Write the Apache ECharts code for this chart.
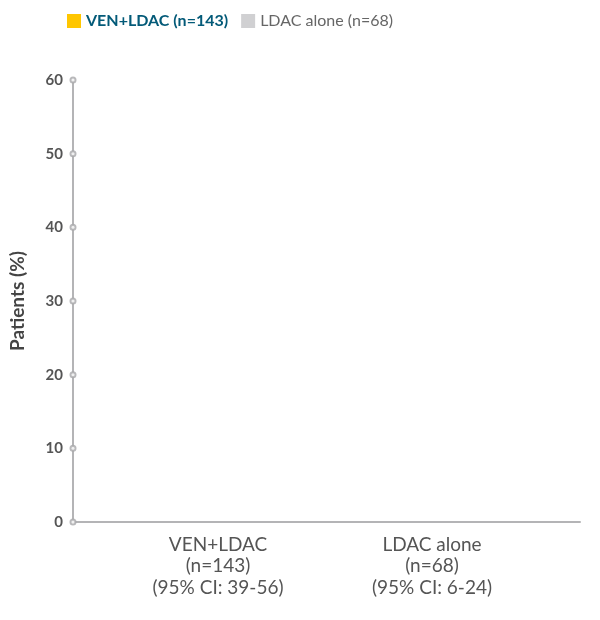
<!DOCTYPE html>
<html>
<head>
<meta charset="utf-8">
<script src="https://cdn.jsdelivr.net/npm/echarts@6/dist/echarts.min.js"></script>
<style>
  html, body { margin: 0; padding: 0; background: #fff; }
  #main { width: 600px; height: 620px; }
</style>
</head>
<body>
<div id="main"></div>
<script>
// categories shown under the axis
var categories = ['VEN+LDAC\n(n=143)\n(95% CI: 39-56)', 'LDAC alone\n(n=68)\n(95% CI: 6-24)'];
// series names (legend)
var seriesNames = ['VEN+LDAC (n=143)', 'LDAC alone (n=68)'];
// no bars are drawn in the picture, so the values are empty
var venValues = ['-', '-'];
var ldacValues = ['-', '-'];
// y ticks
var yTicks = [0, 10, 20, 30, 40, 50, 60];

var font = 'Lato, "Noto Sans", sans-serif';
var axisGray = '#b4b4b6';

var chart = echarts.init(document.getElementById('main'), null, { renderer: 'canvas' });

var option = {
  backgroundColor: '#fff',
  animation: false,
  legend: {
    left: 62,
    top: 8,
    itemWidth: 14,
    itemHeight: 14,
    itemGap: 13,
    icon: 'rect',
    textStyle: { fontFamily: font, fontSize: 16, color: '#666' },
    data: [
      { name: seriesNames[0], textStyle: { color: '#035a78', fontWeight: 'bold' } },
      { name: seriesNames[1], textStyle: { color: '#666', fontWeight: 'normal' } }
    ]
  },
  grid: [
    // axis frame
    { left: 70, right: 20, top: 80, bottom: 98, containLabel: false },
    // where the categories/bars sit
    { left: 111, right: 61, top: 80, bottom: 98, containLabel: false }
  ],
  xAxis: [
    {
      gridIndex: 0, type: 'value', min: 0, max: 1,
      axisLine: { show: true, lineStyle: { color: axisGray, width: 2 } },
      axisTick: { show: false }, axisLabel: { show: false }, splitLine: { show: false }
    },
    {
      gridIndex: 1, type: 'category', data: categories,
      axisLine: { show: false }, axisTick: { show: false }, splitLine: { show: false },
      axisLabel: {
        margin: 12, fontFamily: font, fontSize: 19, lineHeight: 21.5, color: '#555'
      }
    }
  ],
  yAxis: [
    {
      gridIndex: 0, type: 'value', min: 0, max: 60, interval: 10,
      name: 'Patients (%)', nameLocation: 'middle', nameGap: 46,
      nameTextStyle: { fontFamily: font, fontSize: 19, fontWeight: 'bold', color: '#444' },
      axisLine: { show: true, lineStyle: { color: axisGray, width: 2 } },
      axisTick: { show: false },
      splitLine: { show: false },
      axisLabel: { margin: 10, fontFamily: font, fontSize: 15, fontWeight: 'bold', color: '#555' }
    },
    {
      gridIndex: 1, type: 'value', min: 0, max: 60, interval: 10,
      axisLine: { show: false }, axisTick: { show: false },
      axisLabel: { show: false }, splitLine: { show: false }
    }
  ],
  series: [
    {
      name: 'ticks', type: 'scatter', xAxisIndex: 0, yAxisIndex: 0,
      symbol: 'emptyCircle', symbolSize: 5, clip: false, silent: true,
      itemStyle: { color: '#a8a8aa', borderWidth: 1.2 },
      data: yTicks.map(function (t) { return [0, t]; }),
      z: 5
    },
    {
      name: seriesNames[0], type: 'bar', xAxisIndex: 1, yAxisIndex: 1,
      itemStyle: { color: '#ffc600' }, barGap: '10%',
      data: venValues
    },
    {
      name: seriesNames[1], type: 'bar', xAxisIndex: 1, yAxisIndex: 1,
      itemStyle: { color: '#d0d0d2' },
      data: ldacValues
    }
  ]
};

chart.setOption(option);
</script>
</body>
</html>
